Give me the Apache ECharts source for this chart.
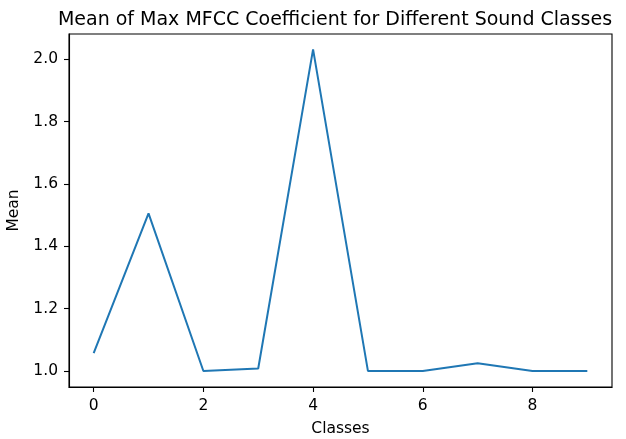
<!DOCTYPE html>
<html>
<head>
<meta charset="utf-8">
<script src="https://cdn.jsdelivr.net/npm/echarts@6/dist/echarts.min.js"></script>
<style>
  html, body { margin: 0; padding: 0; background: #fff; }
  #chart { width: 626px; height: 439px; }
</style>
</head>
<body>
<div id="chart"></div>
<script>
// values
var classes = [0, 1, 2, 3, 4, 5, 6, 7, 8, 9];
var means = [1.057, 1.506, 1.0, 1.008, 2.032, 1.0, 1.0, 1.025, 1.0, 1.0];
var xTicks = [0, 2, 4, 6, 8];
var yTicks = [1.0, 1.2, 1.4, 1.6, 1.8, 2.0];

var font = 'DejaVu Sans';
var points = [];
for (var i = 0; i < classes.length; i++) {
    points.push([classes[i], means[i]]);
}

var myChart = echarts.init(document.getElementById('chart'));
var option = {
    animation: false,
    backgroundColor: '#fff',
    title: {
        text: 'Mean of Max MFCC Coefficient for Different Sound Classes',
        left: 330,
        textAlign: 'center',
        top: 6,
        textStyle: { fontFamily: font, fontSize: 19, fontWeight: 'normal', color: '#000' }
    },
    grid: {
        left: 69, right: 14, top: 34, bottom: 52,
        outerBoundsMode: 'none',
        containLabel: false,
        show: true, borderColor: '#000', borderWidth: 1.1, backgroundColor: 'transparent'
    },
    xAxis: {
        type: 'value',
        min: -0.45,
        max: 9.45,
        name: 'Classes',
        nameLocation: 'middle',
        nameGap: 34,
        nameTextStyle: { fontFamily: font, fontSize: 15.5, color: '#000' },
        splitLine: { show: false },
        axisLine: { show: true, onZero: false, lineStyle: { color: '#000', width: 1.1 } },
        axisTick: { show: true, customValues: xTicks, length: 5, lineStyle: { color: '#000', width: 1.1 } },
        axisLabel: { customValues: xTicks, margin: 11, fontFamily: font, fontSize: 15.5, color: '#000' }
    },
    yAxis: {
        type: 'value',
        min: 0.9485,
        max: 2.0815,
        name: 'Mean',
        nameLocation: 'middle',
        nameGap: 41,
        nameTextStyle: { fontFamily: font, fontSize: 15.5, color: '#000' },
        splitLine: { show: false },
        axisLine: { show: true, onZero: false, lineStyle: { color: '#000', width: 1.1 } },
        axisTick: { show: true, customValues: yTicks, length: 5, lineStyle: { color: '#000', width: 1.1 } },
        axisLabel: {
            customValues: yTicks, margin: 11, fontFamily: font, fontSize: 15.5, color: '#000',
            formatter: function (v) { return v.toFixed(1); }
        }
    },
    series: [
        {
            type: 'line',
            data: points,
            showSymbol: false,
            lineStyle: { color: '#1f77b4', width: 2 },
            itemStyle: { color: '#1f77b4' }
        }
    ]
};
myChart.setOption(option);
</script>
</body>
</html>
